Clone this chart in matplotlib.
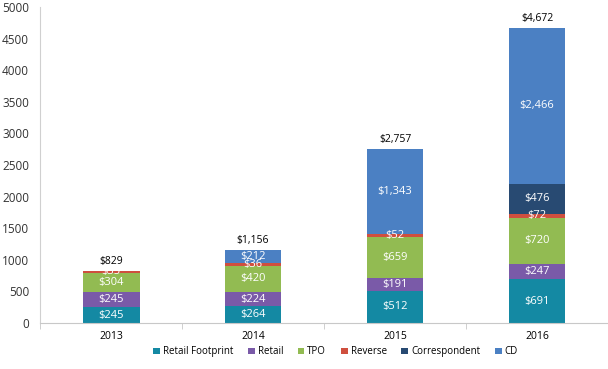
import matplotlib.pyplot as plt
import numpy as np

plt.rcParams['font.family'] = ['Open Sans', 'DejaVu Sans']

years = ['2013', '2014', '2015', '2016']
series = ['Retail Footprint', 'Retail', 'TPO', 'Reverse', 'Correspondent', 'CD']
retail_footprint = [245, 264, 512, 691]
retail = [245, 224, 191, 247]
tpo = [304, 420, 659, 720]
reverse = [35, 36, 52, 72]
correspondent = [0, 0, 0, 476]
cd = [0, 212, 1343, 2466]
totals = ['$829', '$1,156', '$2,757', '$4,672']

colors = ['#1489a3', '#7a5aa8', '#92bb52', '#cf4f3e', '#284a72', '#4b80c3']
data = [retail_footprint, retail, tpo, reverse, correspondent, cd]

fig = plt.figure(figsize=(6.08, 3.69), dpi=100)
ax = fig.add_axes([0.066, 0.125, 0.934, 0.856])

x = np.arange(len(years))
bottom = np.zeros(len(years))
for name, vals, c in zip(series, data, colors):
    vals = np.array(vals, dtype=float)
    ax.bar(x, vals, 0.4, bottom=bottom, color=c, label=name)
    for i, v in enumerate(vals):
        if v > 0:
            ax.text(x[i], bottom[i] + v / 2, '${:,}'.format(int(v)), ha='center', va='center',
                    color='white', fontsize=8)
    bottom += vals

for i, t in enumerate(totals):
    ax.text(x[i], bottom[i] + 60, t, ha='center', va='bottom', fontsize=7.5, color='black')

ax.set_xlim(-0.5, 3.5)
ax.set_ylim(0, 5000)
ax.set_yticks(range(0, 5001, 500))
ax.set_xticks(x)
ax.set_xticklabels(years)
ax.set_xticks(np.arange(-0.5, 4, 1), minor=True)
ax.tick_params(axis='x', which='major', length=0, labelsize=7.5, pad=6)
ax.tick_params(axis='x', which='minor', length=4, color='#c8c8c8')
ax.tick_params(axis='y', length=0, labelsize=8.5, pad=8, labelcolor='#333333')
for s in ['top', 'right']:
    ax.spines[s].set_visible(False)
ax.spines['left'].set_color('#d0d0d0')
ax.spines['bottom'].set_color('#c8c8c8')

ax.legend(loc='center', bbox_to_anchor=(0.52, -0.092), ncol=6, frameon=False,
          fontsize=7, handlelength=0.7, handleheight=0.7, handletextpad=0.3, columnspacing=1.5)

fig.savefig('out.png', dpi=100)
